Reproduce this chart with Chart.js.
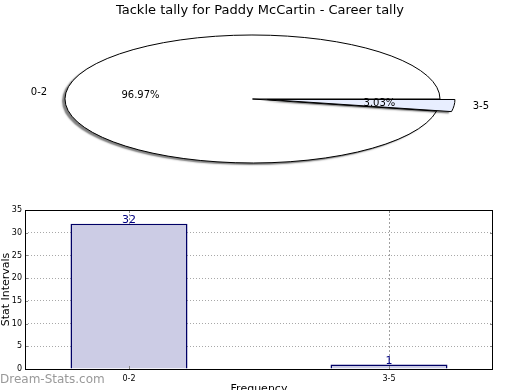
<!DOCTYPE html>
<html><head><meta charset="utf-8">
<script src="https://cdn.jsdelivr.net/npm/chart.js@4/dist/chart.umd.min.js"></script>
<style>
html,body{margin:0;padding:0;background:#fff;overflow:hidden;width:520px;height:390px}
#pie{position:absolute;left:0;top:0}
#bar{position:absolute;left:0;top:200px}
</style></head><body>
<canvas id="pie" width="520" height="200"></canvas>
<canvas id="bar" width="520" height="200"></canvas>
<script>
const chartTitle = 'Tackle tally for Paddy McCartin - Career tally';
const categories = ['0-2', '3-5'];
const tallies = [32, 1];
const yMax = 35, yStep = 5;
const xAxisTitle = 'Frequency';
const yAxisTitle = 'Stat Intervals';
const watermark = 'Dream-Stats.com';

const FONT = "'DejaVu Sans', sans-serif";
Chart.defaults.font.family = FONT;
Chart.defaults.color = '#000';

const total = tallies.reduce((a, b) => a + b, 0);

const E = {cx: 252.5, cy: 99, rx: 187.5, ry: 64};
const explodePx = [0, 15];

const ellipsePlugin = {
  id: 'ellipse',
  afterUpdate(chart) {
    chart.getDatasetMeta(0).data.forEach((el, i) => {
      if (el._wrapped) return;
      el._wrapped = true;
      const orig = el.draw;
      el.draw = function (ctx) {
        const a = (this.startAngle + this.endAngle) / 2;
        const off = explodePx[i] || 0;
        ctx.save();
        ctx.translate(Math.cos(a) * off, Math.sin(a) * off);
        orig.call(this, ctx);
        ctx.restore();
      };
    });
  },
  beforeDatasetsDraw(chart) {
    const ctx = chart.ctx;
    const el = chart.getDatasetMeta(0).data[0];
    ctx.save();
    ctx.translate(E.cx, E.cy);
    ctx.scale(1, E.ry / E.rx);
    ctx.translate(-el.x, -el.y);
    ctx.shadowColor = 'rgba(0,0,0,0.5)';
    ctx.shadowOffsetX = -3;
    ctx.shadowOffsetY = 2;
    ctx.shadowBlur = 1.5;
    ctx.stroke = function () {
      this.save();
      this.setTransform(1, 0, 0, 1, 0, 0);
      this.shadowColor = 'rgba(0,0,0,0)';
      CanvasRenderingContext2D.prototype.stroke.call(this);
      this.restore();
    };
  },
  afterDatasetsDraw(chart) {
    const ctx = chart.ctx;
    delete ctx.stroke;
    ctx.restore();
    ctx.save();
    ctx.fillStyle = '#000';
    ctx.font = '10px ' + FONT;
    ctx.textBaseline = 'middle';
    chart.getDatasetMeta(0).data.forEach((el, i) => {
      const a = (el.startAngle + el.endAngle) / 2;
      const off = explodePx[i] || 0;
      const c = Math.cos(a), s = Math.sin(a);
      const sx = E.cx + off * c, sy = E.cy + off * s * E.ry / E.rx;
      ctx.textAlign = c >= 0 ? 'left' : 'right';
      ctx.fillText(categories[i], sx + 1.1 * E.rx * c, sy + 1.1 * E.ry * s);
      ctx.textAlign = 'center';
      ctx.fillText((tallies[i] / total * 100).toFixed(2) + '%', sx + 0.6 * E.rx * c, sy + 0.6 * E.ry * s);
    });
    ctx.restore();
  }
};

new Chart(document.getElementById('pie'), {
  type: 'pie',
  data: {
    labels: categories,
    datasets: [{
      data: tallies,
      backgroundColor: ['#ffffff', '#e8eeff'],
      borderColor: '#000',
      borderWidth: 1,
      clip: false
    }]
  },
  options: {
    responsive: false,
    animation: false,
    events: [],
    radius: E.rx,
    rotation: 90 + 360 * tallies[1] / total,
    plugins: {
      legend: {display: false},
      tooltip: {enabled: false},
      title: {display: true, text: chartTitle, color: '#000', font: {size: 13, weight: 'normal'}, padding: {top: 3, bottom: 0}}
    }
  },
  plugins: [ellipsePlugin]
});

const barDecor = {
  id: 'barDecor',
  afterDraw(chart) {
    const ctx = chart.ctx, a = chart.chartArea;
    const xs = chart.scales.x, ys = chart.scales.y;
    ctx.save();
    ctx.lineWidth = 1;
    ctx.strokeStyle = '#888';
    ys.ticks.forEach(t => {
      const py = Math.round(ys.getPixelForValue(t.value)) + 0.5;
      ctx.beginPath();
      ctx.moveTo(a.left, py); ctx.lineTo(a.left + 3, py);
      ctx.moveTo(a.right, py); ctx.lineTo(a.right - 3, py);
      ctx.stroke();
    });
    categories.forEach((c, i) => {
      const px = Math.round(xs.getPixelForValue(i)) + 0.5;
      ctx.beginPath();
      ctx.moveTo(px, a.bottom); ctx.lineTo(px, a.bottom - 3);
      ctx.moveTo(px, a.top); ctx.lineTo(px, a.top + 3);
      ctx.stroke();
    });
    ctx.strokeStyle = '#000';
    ctx.strokeRect(a.left + 0.5, a.top + 0.5, a.right - a.left - 1, a.bottom - a.top);
    ctx.fillStyle = '#000080';
    ctx.font = '11px ' + FONT;
    ctx.textAlign = 'center';
    ctx.textBaseline = 'alphabetic';
    chart.getDatasetMeta(0).data.forEach((el, i) => {
      ctx.fillText(String(tallies[i]), el.x, el.y - 0.5);
    });
    ctx.fillStyle = '#999999';
    ctx.font = '12px ' + FONT;
    ctx.textAlign = 'left';
    ctx.textBaseline = 'middle';
    ctx.fillText(watermark, 0, 180);
    ctx.restore();
  }
};

new Chart(document.getElementById('bar'), {
  type: 'bar',
  data: {
    datasets: [{
      data: categories.map((c, i) => ({x: i, y: tallies[i]})),
      backgroundColor: '#ccccE5',
      borderColor: '#000066',
      borderWidth: 1.5,
      barPercentage: 0.45,
      categoryPercentage: 1
    }]
  },
  options: {
    responsive: false,
    animation: false,
    events: [],
    layout: {padding: {left: 0, right: 27, top: 10, bottom: 0}},
    plugins: {legend: {display: false}, tooltip: {enabled: false}},
    scales: {
      x: {
        type: 'linear', min: -0.4, max: 1.4, offset: false, z: 1,
        afterBuildTicks: s => { s.ticks = categories.map((c, i) => ({value: i})); },
        ticks: {callback: v => categories[v], font: {size: 8}, padding: 5, maxRotation: 0, autoSkip: false, color: '#000'},
        grid: {color: '#a0a0a0', drawTicks: false, offset: false, lineWidth: 1},
        border: {display: false, dash: [2, 2]},
        title: {display: true, text: xAxisTitle, font: {size: 11}, padding: {top: 0, bottom: 4}},
        afterFit: s => { s.height = 31; }
      },
      y: {
        min: 0, max: yMax, z: 1,
        ticks: {stepSize: yStep, font: {size: 8}, padding: 3, color: '#000'},
        grid: {color: '#a8a8a8', drawTicks: false, lineWidth: 1},
        border: {display: false, dash: [1, 2]},
        title: {display: true, text: yAxisTitle, font: {size: 11}, padding: 0},
        afterFit: s => { s.width = 25; }
      }
    }
  },
  plugins: [barDecor]
});
</script>
</body></html>
